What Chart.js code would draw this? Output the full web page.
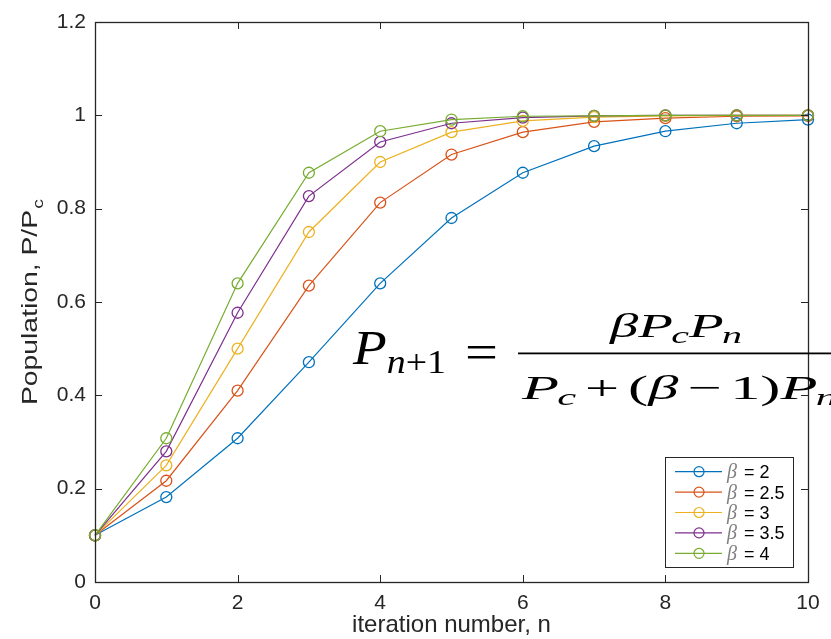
<!DOCTYPE html>
<html>
<head>
<meta charset="utf-8">
<script src="https://cdn.jsdelivr.net/npm/chart.js@4"></script>
<style>
  html, body { margin: 0; padding: 0; background: #fff; }
  #wrap { width: 831px; height: 639px; }
</style>
</head>
<body>
<div id="wrap"><canvas id="chart" width="831" height="639"></canvas></div>
<script>
"use strict";

// values
const iterations = [0, 1, 2, 3, 4, 5, 6, 7, 8, 9, 10];
const beta2 = [0.1, 0.182, 0.308, 0.471, 0.640, 0.780, 0.877, 0.934, 0.966, 0.983, 0.991];
const beta25 = [0.1, 0.217, 0.410, 0.635, 0.813, 0.916, 0.964, 0.986, 0.994, 0.998, 0.999];
const beta3 = [0.1, 0.25, 0.5, 0.75, 0.9, 0.964, 0.988, 0.996, 0.999, 1.0, 1.0];
const beta35 = [0.1, 0.28, 0.577, 0.827, 0.943, 0.983, 0.995, 0.999, 1.0, 1.0, 1.0];
const beta4 = [0.1, 0.308, 0.640, 0.877, 0.966, 0.991, 0.998, 0.999, 1.0, 1.0, 1.0];
const seriesLabels = ["β = 2", "β = 2.5", "β = 3", "β = 3.5", "β = 4"];
const xTicks = [0, 2, 4, 6, 8, 10];
const yTicks = [0, 0.2, 0.4, 0.6, 0.8, 1, 1.2];

const colors = ["#0072BD", "#D95319", "#EDB120", "#7E2F8E", "#77AC30"];
const axisColor = "#262626";
const sans = "'Liberation Sans', Arial, sans-serif";
const serif = "'Liberation Serif', 'DejaVu Serif', serif";

const allSeries = [beta2, beta25, beta3, beta35, beta4];

const datasets = allSeries.map(function (vals, i) {
  return {
    label: seriesLabels[i],
    data: iterations.map(function (n, j) { return { x: n, y: vals[j] }; }),
    borderColor: colors[i],
    backgroundColor: colors[i],
    borderWidth: 1.2,
    pointStyle: "circle",
    pointRadius: 5.5,
    pointBorderWidth: 1.3,
    pointBackgroundColor: "rgba(0,0,0,0)",
    pointBorderColor: colors[i],
    tension: 0,
    clip: false,
    order: allSeries.length - i,
  };
});

// box with inward ticks, like matlab axes
const boxPlugin = {
  id: "box",
  afterDatasetsDraw(chart) {
    const ctx = chart.ctx;
    const a = chart.chartArea;
    const xs = chart.scales.x;
    const ys = chart.scales.y;
    ctx.save();
    ctx.strokeStyle = axisColor;
    ctx.lineWidth = 1;
    ctx.beginPath();
    xTicks.forEach(function (t) {
      const px = Math.round(xs.getPixelForValue(t)) + 0.5;
      ctx.moveTo(px, a.bottom); ctx.lineTo(px, a.bottom - 7);
      ctx.moveTo(px, a.top); ctx.lineTo(px, a.top + 7);
    });
    yTicks.forEach(function (t) {
      const py = Math.round(ys.getPixelForValue(t)) + 0.5;
      ctx.moveTo(a.left, py); ctx.lineTo(a.left + 7, py);
      ctx.moveTo(a.right, py); ctx.lineTo(a.right - 7, py);
    });
    ctx.stroke();
    ctx.lineWidth = 1.3;
    ctx.strokeRect(Math.round(a.left) + 0.5, Math.round(a.top) + 0.5,
      Math.round(a.right - a.left), Math.round(a.bottom - a.top));
    ctx.restore();
  },
};

function fontOf(r) {
  return (r.italic ? "italic " : "") + r.size + "px " + (r.family || serif);
}

function runsWidth(ctx, runs) {
  let w = 0;
  runs.forEach(function (r) {
    ctx.font = fontOf(r);
    w += ctx.measureText(r.t).width + (r.gap || 0);
  });
  return w;
}

// draw runs of text stretched so that they span the given width
function drawRuns(ctx, x, y, runs, width) {
  const sx = width ? width / runsWidth(ctx, runs) : 1;
  runs.forEach(function (r) {
    ctx.font = fontOf(r);
    ctx.fillStyle = r.color || "#000";
    ctx.save();
    ctx.translate(x, y + (r.dy || 0));
    ctx.scale(sx, 1);
    ctx.fillText(r.t, 0, 0);
    ctx.restore();
    x += (ctx.measureText(r.t).width + (r.gap || 0)) * sx;
  });
  return x;
}

const extrasPlugin = {
  id: "extras",
  afterDraw(chart) {
    const ctx = chart.ctx;
    const a = chart.chartArea;
    ctx.save();
    ctx.textBaseline = "alphabetic";
    ctx.textAlign = "left";

    // y axis title with subscript
    const yRuns = [
      { t: "Population, P/P", size: 22, family: sans, color: axisColor, gap: 1 },
      { t: "c", size: 15, family: sans, color: axisColor, dy: 6 },
    ];
    ctx.save();
    ctx.translate(37, (a.top + a.bottom) / 2);
    ctx.rotate(-Math.PI / 2);
    drawRuns(ctx, -103, 0, yRuns, 206);
    ctx.restore();

    // legend
    const lx = 665.5, ly = 457.5, lw = 128, lh = 110;
    ctx.fillStyle = "#fff";
    ctx.fillRect(lx, ly, lw, lh);
    ctx.strokeStyle = axisColor;
    ctx.lineWidth = 1;
    ctx.strokeRect(lx, ly, lw, lh);
    chart.data.datasets.forEach(function (ds, i) {
      const cy = 471.7 + i * 20.4;
      ctx.strokeStyle = ds.borderColor;
      ctx.lineWidth = 1.2;
      ctx.beginPath();
      ctx.moveTo(675, cy); ctx.lineTo(722, cy);
      ctx.stroke();
      ctx.beginPath();
      ctx.arc(699, cy, 5, 0, Math.PI * 2);
      ctx.stroke();
      drawRuns(ctx, 727, cy + 6.5, [
        { t: ds.label.charAt(0), size: 20, italic: true, color: "#808080", gap: 2 },
        { t: ds.label.slice(1), size: 18, family: sans, color: "#000" },
      ]);
    });

    // equation
    drawRuns(ctx, 353, 364, [
      { t: "P", size: 48, italic: true, gap: 0 },
      { t: "n", size: 33, italic: true, dy: 9 },
      { t: "+1", size: 33, dy: 9 },
    ], 93);
    drawRuns(ctx, 465, 369, [{ t: "=", size: 50 }], 33);
    ctx.fillStyle = "#000";
    ctx.fillRect(518, 352.5, 313, 1.8);
    drawRuns(ctx, 610, 337, [
      { t: "β", size: 34, italic: true, gap: 0 },
      { t: "P", size: 34, italic: true, gap: -1 },
      { t: "c", size: 24, italic: true, dy: 6, gap: 0 },
      { t: "P", size: 34, italic: true, gap: -1 },
      { t: "n", size: 24, italic: true, dy: 6 },
    ], 132);
    drawRuns(ctx, 522, 399, [
      { t: "P", size: 34, italic: true, gap: -1 },
      { t: "c", size: 24, italic: true, dy: 6, gap: 5 },
      { t: "+", size: 34, gap: 5 },
      { t: "(", size: 34 },
      { t: "β", size: 34, italic: true, gap: 5 },
      { t: "−", size: 34, gap: 5 },
      { t: "1)", size: 34 },
      { t: "P", size: 34, italic: true, gap: -1 },
      { t: "n", size: 24, italic: true, dy: 6 },
    ], 315);
    ctx.restore();
  },
};

new Chart(document.getElementById("chart"), {
  type: "line",
  data: { datasets: datasets },
  plugins: [boxPlugin, extrasPlugin],
  options: {
    responsive: false,
    animation: false,
    layout: { padding: { top: 22, right: 23, left: 0, bottom: 0 } },
    plugins: { legend: { display: false }, tooltip: { enabled: false } },
    scales: {
      x: {
        type: "linear",
        min: 0,
        max: 10,
        afterFit(scale) { scale.height = 57; },
        afterBuildTicks(scale) { scale.ticks = xTicks.map(function (v) { return { value: v }; }); },
        grid: { display: false },
        border: { display: false },
        ticks: { padding: 1, color: axisColor, font: { family: sans, size: 21 }, maxRotation: 0 },
        title: {
          display: true,
          text: "iteration number, n",
          color: axisColor,
          font: { family: sans, size: 24, lineHeight: 1 },
          padding: { top: 0, bottom: 1.5 },
        },
      },
      y: {
        min: 0,
        max: 1.2,
        afterFit(scale) { scale.width = 95; },
        afterBuildTicks(scale) { scale.ticks = yTicks.map(function (v) { return { value: v }; }); },
        grid: { display: false },
        border: { display: false },
        ticks: {
          padding: 1,
          color: axisColor,
          font: { family: sans, size: 21 },
          callback: function (v) { return String(Number(v.toFixed(1))); },
        },
      },
    },
  },
});
</script>
</body>
</html>
